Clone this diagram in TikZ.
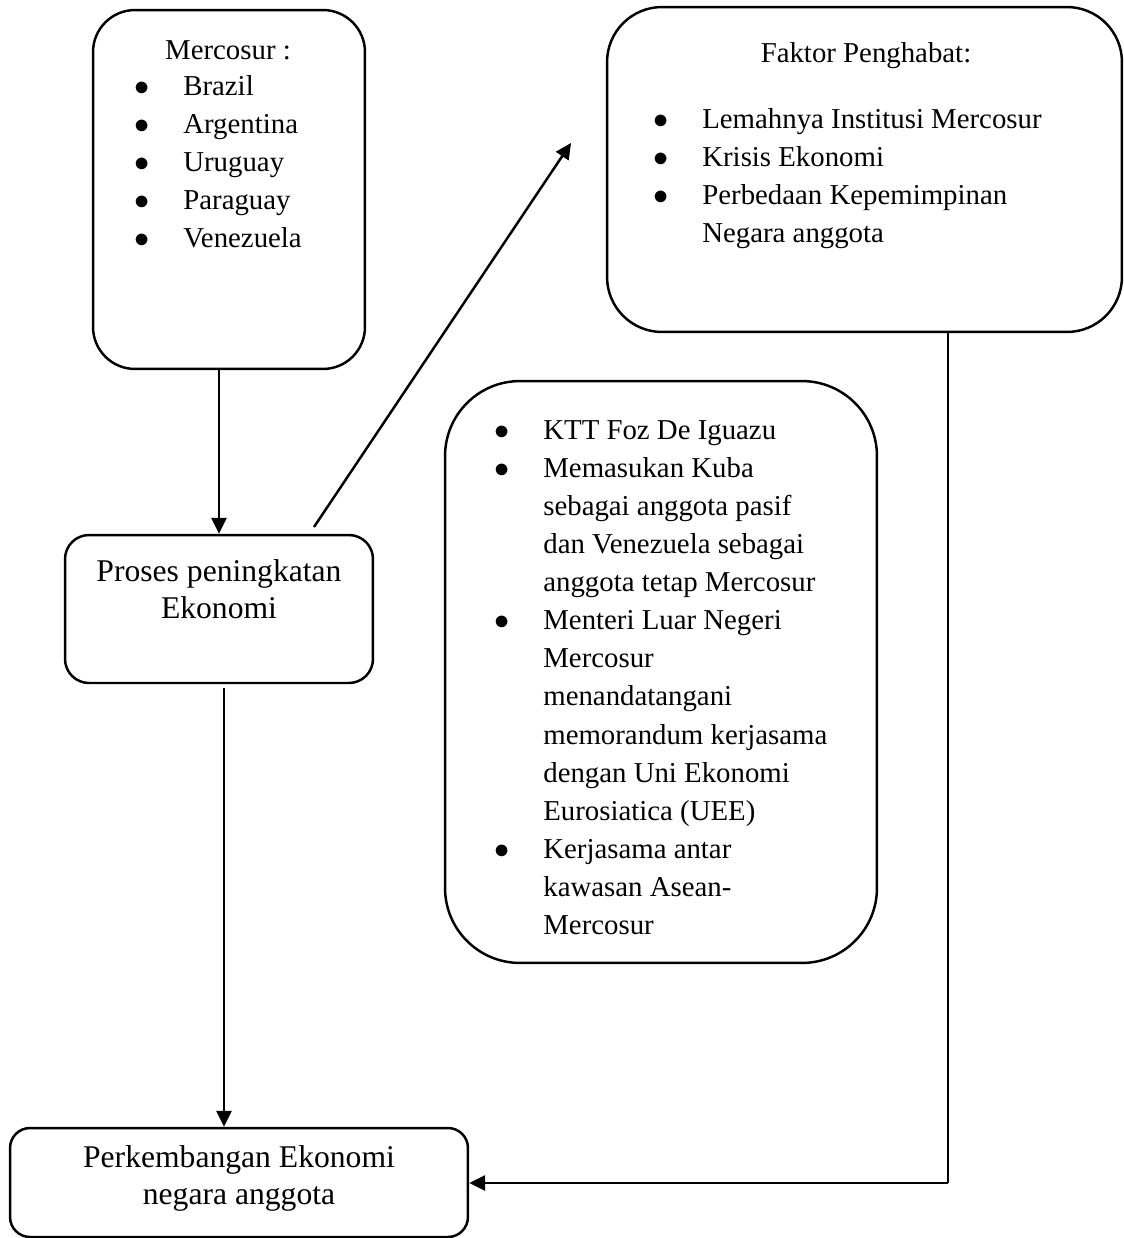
\documentclass[tikz,border=0pt]{standalone}
\usepackage{fontspec}
\setmainfont{Liberation Serif}
\usetikzlibrary{positioning, arrows.meta, calc}

\newcommand{\bul}{$\bullet$}
\newcommand{\listfont}{\fontsize{16.4}{21.7}\selectfont}
\newcommand{\bigfont}{\fontsize{18}{21.5}\selectfont}

\begin{document}
\begin{tikzpicture}[x=0.02cm, y=-0.02cm,
  box/.style={draw, line width=1.4pt, rounded corners=#1},
  box/.default=0.5cm,
  arr/.style={line width=1.4pt, -{Triangle[length=9pt, width=8.5pt]}},
  lst/.style={anchor=base west, inner sep=0pt, font=\listfont},
  ttl/.style={anchor=base, inner sep=0pt}]
  \useasboundingbox (0,0) rectangle (1124,1238);

  % boxes
  \node[box=0.84cm, minimum width=5.44cm, minimum height=7.18cm] (mercosur) at (229,189.5) {};
  \node[box=1.1cm, minimum width=10.3cm, minimum height=6.5cm] (faktor) at (864.5,169.5) {};
  \node[box=1.5cm, minimum width=8.64cm, minimum height=11.64cm] (upaya) at (661,672) {};
  \node[box=0.48cm, minimum width=6.16cm, minimum height=2.96cm] (proses) at (219,609) {};
  \node[box=0.4cm, minimum width=9.16cm, minimum height=2.18cm] (perkembangan) at (239,1182.5) {};

  % texts
  \node[ttl, font=\listfont] (mercosurtitle) at (228,59) {Mercosur :};
  \node[lst] (mercosurlist) at (134,95) {\begin{tabular}[t]{@{}p{0.98cm}@{}l@{}}
    \bul & Brazil\\
    \bul & Argentina\\
    \bul & Uruguay\\
    \bul & Paraguay\\
    \bul & Venezuela
  \end{tabular}};

  \node[ttl, font=\listfont] (faktortitle) at (866,62) {Faktor Penghabat:};
  \node[lst] (faktorlist) at (653,128) {\begin{tabular}[t]{@{}p{0.98cm}@{}l@{}}
    \bul & Lemahnya Institusi Mercosur\\
    \bul & Krisis Ekonomi\\
    \bul & Perbedaan Kepemimpinan\\
         & Negara anggota
  \end{tabular}};

  \node[lst] (upayalist) at (494,439) {\begin{tabular}[t]{@{}p{0.98cm}@{}l@{}}
    \bul & KTT Foz De Iguazu\\
    \bul & Memasukan Kuba\\
         & sebagai anggota pasif\\
         & dan Venezuela sebagai\\
         & anggota tetap Mercosur\\
    \bul & Menteri Luar Negeri\\
         & Mercosur\\
         & menandatangani\\
         & memorandum kerjasama\\
         & dengan Uni Ekonomi\\
         & Eurosiatica (UEE)\\
    \bul & Kerjasama antar\\
         & kawasan Asean-\\
         & Mercosur
  \end{tabular}};

  \node[ttl, font=\bigfont] (prosestext) at (219,581) {\begin{tabular}[t]{@{}c@{}}
    Proses peningkatan\\ Ekonomi
  \end{tabular}};
  \node[ttl, font=\bigfont] (perkembangantext) at (239,1167) {\begin{tabular}[t]{@{}c@{}}
    Perkembangan Ekonomi\\ negara anggota
  \end{tabular}};

  % connectors
  \coordinate (diagstart) at (314,527);
  \coordinate (diagend) at (571,143);
  \coordinate (pdown) at (224,688);
  \coordinate (corner) at (948,1183);

  \draw[arr] (proses.north |- mercosur.south) -- (proses.north);
  \draw[arr] (diagstart) -- (diagend);
  \draw[arr] (pdown) -- (pdown |- perkembangan.north);
  \draw[line width=0.6pt] (faktor.south -| corner) -- (corner);
  \draw[arr] (corner) -- (corner -| perkembangan.east);
\end{tikzpicture}
\end{document}
